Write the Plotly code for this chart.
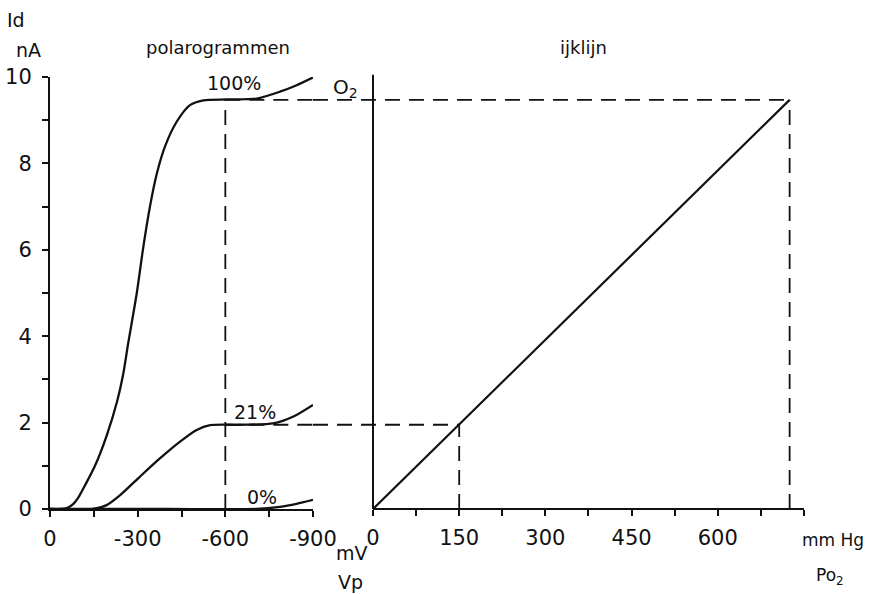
import plotly.graph_objects as go

# ---- data -------------------------------------------------------------
# polarograms: polarisation voltage Vp (mV) vs diffusion current Id (nA)
vp_100 = [0, -34, -60, -80, -100, -120, -154, -194, -230, -250, -268, -297, -319, -342,
          -365, -394, -434, -479, -525, -605, -707, -787, -844, -900]
id_100 = [0, 0, 0.03, 0.12, 0.3, 0.55, 1.0, 1.7, 2.5, 3.1, 3.85, 5.0, 6.05, 7.0,
          7.75, 8.4, 8.97, 9.35, 9.46, 9.48, 9.5, 9.66, 9.81, 9.99]
vp_21 = [0, -148, -194, -240, -308, -376, -445, -502, -548, -650, -764, -833, -900]
id_21 = [0, 0, 0.09, 0.32, 0.75, 1.17, 1.56, 1.83, 1.94, 1.95, 1.98, 2.14, 2.41]
vp_0 = [0, -400, -707, -787, -844, -900]
id_0 = [0, 0, 0, 0.05, 0.12, 0.21]

# calibration line: Po2 (mm Hg) vs Id (nA)
po2_cal = [0, 725]
id_cal = [0, 9.47]

# read-off points
V_READ = -600
I_100 = 9.47
I_21 = 1.95
PO2_21 = 150
PO2_100 = 725

# axis ticks
vp_ticks = [0, -300, -600, -900]
vp_labels = ["0", "-300", "-600", "-900"]
vp_minor = [-150, -450, -750]
po2_ticks = [0, 150, 300, 450, 600]
po2_labels = ["0", "150", "300", "450", "600"]
po2_minor = [75, 225, 375, 525, 675, 750]
id_ticks = [0, 2, 4, 6, 8, 10]
id_labels = ["0", "2", "4", "6", "8", "10"]
id_minor = [1, 3, 5, 7, 9]

VP_END = -900
PO2_END = 750
X2_MIN = -104.4   # left edge of right panel domain (gap between panels)

FONT = "DejaVu Sans"
BLACK = "#111111"
DASH = "15px,9px"

fig = go.Figure()

dash_line = dict(color=BLACK, width=1.8, dash=DASH)
# dashed read-off lines (left panel)
fig.add_trace(go.Scatter(x=[V_READ, V_READ], y=[0, I_100], xaxis="x", yaxis="y",
                         mode="lines", line=dash_line))
fig.add_trace(go.Scatter(x=[V_READ, VP_END], y=[I_100, I_100], xaxis="x", yaxis="y",
                         mode="lines", line=dash_line))
fig.add_trace(go.Scatter(x=[V_READ, VP_END], y=[I_21, I_21], xaxis="x", yaxis="y",
                         mode="lines", line=dash_line))
# dashed read-off lines (right panel)
fig.add_trace(go.Scatter(x=[X2_MIN, PO2_100], y=[I_100, I_100], xaxis="x2", yaxis="y",
                         mode="lines", line=dash_line))
fig.add_trace(go.Scatter(x=[X2_MIN, PO2_21], y=[I_21, I_21], xaxis="x2", yaxis="y",
                         mode="lines", line=dash_line))
fig.add_trace(go.Scatter(x=[PO2_21, PO2_21], y=[0, I_21], xaxis="x2", yaxis="y",
                         mode="lines", line=dash_line))
fig.add_trace(go.Scatter(x=[PO2_100, PO2_100], y=[0, I_100], xaxis="x2", yaxis="y",
                         mode="lines", line=dash_line))

# polarograms
for xs, ys in [(vp_100, id_100), (vp_21, id_21), (vp_0, id_0)]:
    fig.add_trace(go.Scatter(x=xs, y=ys, xaxis="x", yaxis="y", mode="lines",
                             line=dict(color=BLACK, width=2.3, shape="spline", smoothing=0.7)))

# calibration line
fig.add_trace(go.Scatter(x=po2_cal, y=id_cal, xaxis="x2", yaxis="y", mode="lines",
                         line=dict(color=BLACK, width=2.2)))

# right panel axis lines (panel starts after a gap)
fig.add_shape(type="line", xref="x2", yref="paper", x0=0, x1=PO2_END, y0=0, y1=0,
              line=dict(color=BLACK, width=2))
fig.add_shape(type="line", xref="x2", yref="paper", x0=0, x1=0, y0=0, y1=1.005,
              line=dict(color=BLACK, width=2))

def ann(text, x, y, xref="paper", yref="paper", size=19):
    fig.add_annotation(text=text, x=x, y=y, xref=xref, yref=yref, showarrow=False,
                       xanchor="center", yanchor="middle",
                       font=dict(family=FONT, size=size, color=BLACK))

# labels outside the plotting area (paper coordinates)
ann("Id", -0.045, 1.132)
ann("nA", -0.028, 1.0625)
ann("polarogrammen", 0.2228, 1.0694, size=18)
ann("ijklijn", 0.7069, 1.0694, size=18)
ann("mV", 0.4005, -0.102)
ann("Vp", 0.3979, -0.169)
ann("mm Hg", 1.0385, -0.072, size=17)
ann("Po<sub>2</sub>", 1.0345, -0.157, size=17)
# labels inside the panels (data coordinates)
ann("100%", -630, 9.86, "x", "y")
ann("21%", -702, 2.25, "x", "y")
ann("0%", -724, 0.27, "x", "y")
ann("O<sub>2</sub>", -48, 9.75, "x2", "y", size=20)

axis_common = dict(showgrid=False, zeroline=False, ticks="outside", ticklen=6,
                   tickwidth=2, tickcolor=BLACK, linecolor=BLACK, linewidth=2,
                   automargin=False,
                   tickfont=dict(family=FONT, size=21, color=BLACK))

def minor(vals):
    return dict(tickmode="array", tickvals=vals, ticks="outside", ticklen=6,
                tickwidth=2, tickcolor=BLACK, showgrid=False)

fig.update_layout(
    width=878, height=594,
    margin=dict(l=50, r=74, t=77, b=85, autoexpand=False),
    paper_bgcolor="white", plot_bgcolor="white",
    showlegend=False,
    xaxis=dict(domain=[0, 0.3488], range=[0, VP_END], anchor="y", showline=True,
               tickvals=vp_ticks, ticktext=vp_labels, minor=minor(vp_minor),
               ticklabelstandoff=4, **axis_common),
    xaxis2=dict(domain=[0.3488, 1], range=[X2_MIN, PO2_END], anchor="y", showline=False,
                tickvals=po2_ticks, ticktext=po2_labels, minor=minor(po2_minor),
                ticklabelstandoff=4, **axis_common),
    yaxis=dict(domain=[0, 1], range=[0, 10], anchor="x", showline=True,
               tickvals=id_ticks, ticktext=id_labels, minor=minor(id_minor),
               ticklabelstandoff=6, **axis_common),
)

fig.write_html("out.html")
